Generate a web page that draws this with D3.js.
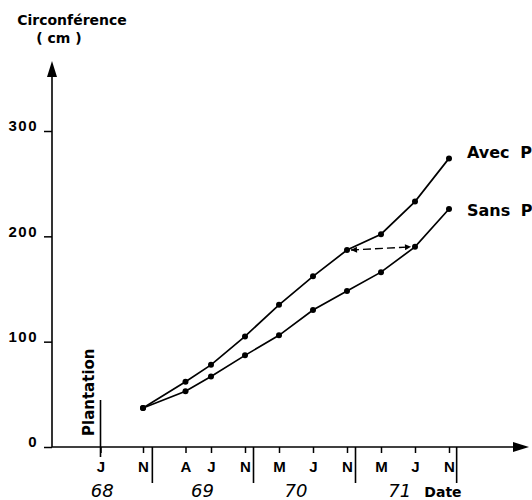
<!DOCTYPE html>
<html>
<head>
<meta charset="utf-8">
<script src="https://cdn.jsdelivr.net/npm/d3@7"></script>
<style>
body { margin: 0; background: #fff; }
svg { display: block; font-family: "DejaVu Sans", sans-serif; }
</style>
</head>
<body>
<svg width="532" height="500"></svg>
<script>
// months counted from January 1968
var tickMonths = [5, 10, 15, 18, 22, 26, 30, 34, 38, 42, 46];
var tickLetters = ["J", "N", "A", "J", "N", "M", "J", "N", "M", "J", "N"];
var yearMonths = [5.2, 17, 28, 40.2];
var yearLabels = ["68", "69", "70", "71"];
var yearBreaks = [11.1, 23, 35, 46.9];

var sampleMonths = [10, 15, 18, 22, 26, 30, 34, 38, 42, 46];
var avecP = [37, 62, 78, 105, 135, 162, 187, 202, 233, 274];
var sansP = [37, 53, 67, 87, 106, 130, 148, 166, 190, 226];

var yTicks = [0, 100, 200, 300];

var svg = d3.select('svg');

var x = d3.scaleLinear().domain([10, 46]).range([143, 449]);
var y = d3.scaleLinear().domain([0, 300]).range([447, 131]);
var x0 = 52;

var defs = svg.append('defs');
defs.append('marker')
	.attr('id', 'head')
	.attr('viewBox', '0 0 10 10')
	.attr('refX', 10).attr('refY', 5)
	.attr('markerWidth', 9).attr('markerHeight', 6)
	.attr('markerUnits', 'userSpaceOnUse')
	.attr('orient', 'auto-start-reverse')
	.append('path')
	.attr('d', 'M0,0L10,5L0,10Z')
	.attr('fill', '#000');

// axes lines with arrows
svg.append('line')
	.attr('x1', x0).attr('y1', y(0))
	.attr('x2', x0).attr('y2', 72)
	.attr('stroke', '#000').attr('stroke-width', 1.6);
svg.append('path')
	.attr('d', 'M' + x0 + ',61L' + (x0 - 5) + ',77L' + (x0 + 5) + ',77Z')
	.attr('fill', '#000');

svg.append('line')
	.attr('x1', x0).attr('y1', y(0))
	.attr('x2', 518).attr('y2', y(0))
	.attr('stroke', '#000').attr('stroke-width', 1.6);
svg.append('path')
	.attr('d', 'M529,' + y(0) + 'L513,' + (y(0) - 5) + 'L513,' + (y(0) + 5) + 'Z')
	.attr('fill', '#000');

// y axis
var yAxis = d3.axisLeft(y).tickValues(yTicks).tickSize(8).tickPadding(6);
var gy = svg.append('g')
	.attr('transform', 'translate(' + x0 + ',0)')
	.call(yAxis);
gy.select('.domain').remove();
gy.selectAll('line').attr('stroke-width', 1.5);
gy.selectAll('text')
	.attr('y', -5)
	.style('font-size', '15px')
	.style('font-weight', 'bold')
	.style('letter-spacing', '1.5px')
	.style('fill', '#000');

// x axis
var xAxis = d3.axisBottom(x)
	.tickValues(tickMonths)
	.tickFormat(function (d, i) { return tickLetters[i]; })
	.tickSize(6).tickPadding(8);
var gx = svg.append('g')
	.attr('transform', 'translate(0,' + y(0) + ')')
	.call(xAxis);
gx.select('.domain').remove();
gx.selectAll('line').attr('stroke-width', 1.5);
gx.selectAll('text')
	.style('font-size', '15px')
	.style('font-weight', 'bold')
	.style('fill', '#000');

// year separators
svg.selectAll('line.sep')
	.data(yearBreaks)
	.enter()
	.append('line')
	.attr('class', 'sep')
	.attr('x1', function (d) { return x(d); })
	.attr('x2', function (d) { return x(d); })
	.attr('y1', y(0))
	.attr('y2', y(0) + 36)
	.attr('stroke', '#000').attr('stroke-width', 1.6);

svg.selectAll('text.year')
	.data(yearLabels)
	.enter()
	.append('text')
	.attr('class', 'year')
	.attr('x', function (d, i) { return x(yearMonths[i]); })
	.attr('y', 497)
	.attr('text-anchor', 'middle')
	.style('font-size', '18px')
	.style('font-style', 'italic')
	.text(function (d) { return d; });

svg.append('text')
	.attr('x', 443).attr('y', 497)
	.attr('text-anchor', 'middle')
	.style('font-size', '14px')
	.style('font-weight', 'bold')
	.text('Date');

// plantation marker
svg.append('line')
	.attr('x1', x(5)).attr('x2', x(5))
	.attr('y1', 400).attr('y2', y(0) + 10)
	.attr('stroke', '#000').attr('stroke-width', 1.6);
svg.append('text')
	.attr('transform', 'translate(94,436) rotate(-90)')
	.style('font-size', '15px')
	.style('font-weight', 'bold')
	.text('Plantation');

// axis title
svg.append('text')
	.attr('x', 72).attr('y', 25)
	.attr('text-anchor', 'middle')
	.style('font-size', '14px')
	.style('font-weight', 'bold')
	.text('Circonférence');
svg.append('text')
	.attr('x', 59).attr('y', 43)
	.attr('text-anchor', 'middle')
	.style('font-size', '14px')
	.style('font-weight', 'bold')
	.text('( cm )');

// series
var line = d3.line()
	.x(function (d, i) { return x(sampleMonths[i]); })
	.y(function (d) { return y(d); });

[avecP, sansP].forEach(function (series) {
	svg.append('path')
		.attr('d', line(series))
		.attr('fill', 'none')
		.attr('stroke', '#000')
		.attr('stroke-width', 1.7);
	svg.selectAll(null)
		.data(series)
		.enter()
		.append('circle')
		.attr('cx', function (d, i) { return x(sampleMonths[i]); })
		.attr('cy', function (d) { return y(d); })
		.attr('r', 3)
		.attr('fill', '#000');
});

// dashed double arrow: same size reached 8 months later
var ax1 = x(sampleMonths[6]) + 4, ay1 = y(avecP[6]);
var ax2 = x(sampleMonths[8]) - 4, ay2 = y(sansP[8]);
svg.append('line')
	.attr('x1', ax1).attr('y1', ay1)
	.attr('x2', ax2).attr('y2', ay2)
	.attr('stroke', '#000').attr('stroke-width', 1.4)
	.attr('stroke-dasharray', '8,4')
	.attr('marker-start', 'url(#head)')
	.attr('marker-end', 'url(#head)');

// series labels
svg.append('text')
	.attr('x', 467).attr('y', 158)
	.style('font-size', '16px')
	.style('font-weight', 'bold')
	.style('word-spacing', '5px')
	.text('Avec P');
svg.append('text')
	.attr('x', 467).attr('y', 216)
	.style('font-size', '16px')
	.style('font-weight', 'bold')
	.style('word-spacing', '5px')
	.text('Sans P');
</script>
</body>
</html>
